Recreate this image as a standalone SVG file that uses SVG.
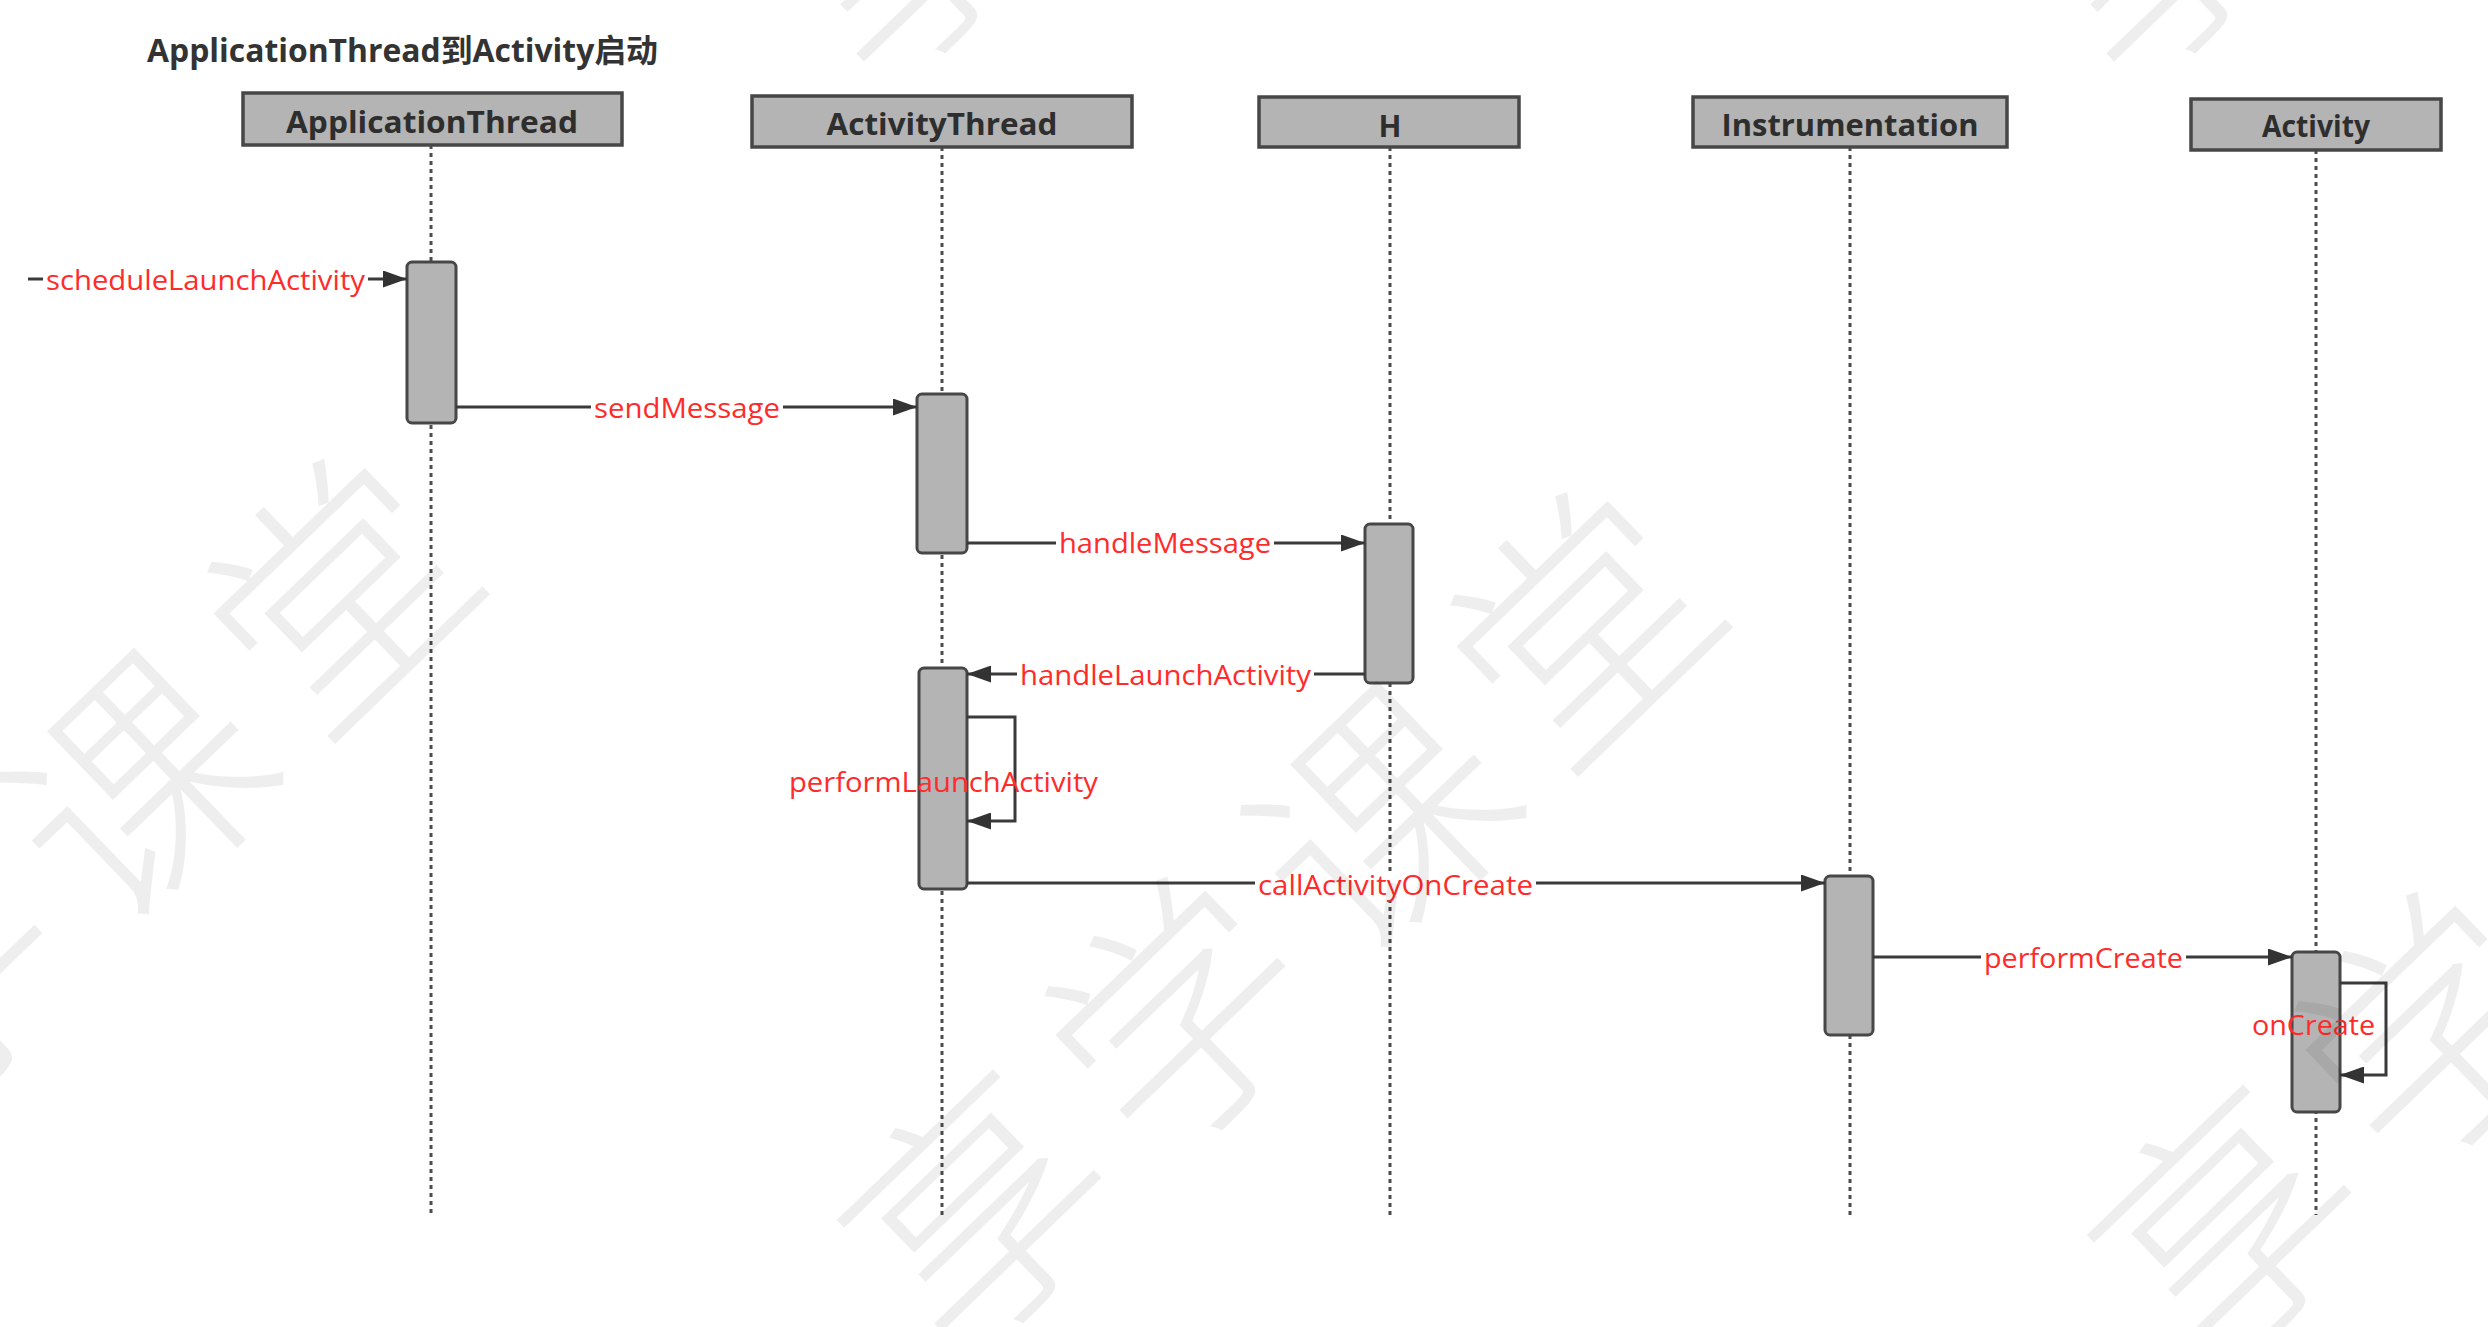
<svg xmlns="http://www.w3.org/2000/svg" width="2488" height="1327" viewBox="0 0 2488 1327">
<style>
.hdr{fill:#b4b4b4;stroke:#474747;stroke-width:3.5}
.hdrt{font-family:"Open Sans","Noto Sans",sans-serif;font-weight:700;font-size:30px;fill:#2e2e2e;text-anchor:middle}
.life{stroke:#4d4d4d;stroke-width:3;stroke-dasharray:4 4;fill:none}
.act{fill:#b4b4b4;stroke:#474747;stroke-width:3}
.msg{stroke:#3a3a3a;stroke-width:3;fill:none;marker-end:url(#arr)}
.lbl{font-family:"Open Sans","Noto Sans",sans-serif;font-size:27px;fill:#ff2b2b}
.lbg{fill:#fff}
.wm{font-family:"Noto Sans CJK SC","Noto Sans CJK JP",sans-serif;font-weight:300;font-size:250px;letter-spacing:30px;fill:#000;fill-opacity:0.065}
</style>
<defs>
<marker id="arr" markerUnits="userSpaceOnUse" markerWidth="24" markerHeight="17" viewBox="0 0 24 17" refX="24" refY="8.5" orient="auto">
<path d="M0,0 L24,8.5 L0,17 Z" fill="#333"/>
</marker>
</defs>
<rect width="2488" height="1327" fill="#fff"/>
<text x="147" y="62" font-family="Open Sans, Noto Sans CJK SC, sans-serif" font-weight="700" font-size="32" fill="#333" textLength="511" lengthAdjust="spacingAndGlyphs">ApplicationThread到Activity启动</text>

<g id="lifelines">
<line class="life" x1="431" y1="145" x2="431" y2="1215"/>
<line class="life" x1="942" y1="147" x2="942" y2="1215"/>
<line class="life" x1="1390" y1="147" x2="1390" y2="1215"/>
<line class="life" x1="1850" y1="147" x2="1850" y2="1215"/>
<line class="life" x1="2316" y1="150" x2="2316" y2="1215"/>
</g>

<g id="node-applicationthread">
<rect class="hdr" x="243" y="93" width="379" height="52"/>
<text class="hdrt" x="432" y="133" textLength="292" lengthAdjust="spacingAndGlyphs">ApplicationThread</text>
<rect class="act" x="407" y="262" width="49" height="161" rx="5"/>
</g>
<g id="node-activitythread">
<rect class="hdr" x="752" y="96" width="380" height="51"/>
<text class="hdrt" x="942" y="135" textLength="231" lengthAdjust="spacingAndGlyphs">ActivityThread</text>
<rect class="act" x="917" y="394" width="50" height="159" rx="5"/>
<rect class="act" x="919" y="668" width="48" height="221" rx="5"/>
</g>
<g id="node-h">
<rect class="hdr" x="1259" y="97" width="260" height="50"/>
<text class="hdrt" x="1390" y="137">H</text>
<rect class="act" x="1365" y="524" width="48" height="159" rx="5"/>
</g>
<g id="node-instrumentation">
<rect class="hdr" x="1693" y="97" width="314" height="50"/>
<text class="hdrt" x="1850" y="136" textLength="257" lengthAdjust="spacingAndGlyphs">Instrumentation</text>
<rect class="act" x="1825" y="876" width="48" height="159" rx="5"/>
</g>
<g id="node-activity">
<rect class="hdr" x="2191" y="99" width="250" height="51"/>
<text class="hdrt" x="2316" y="137" textLength="108" lengthAdjust="spacingAndGlyphs">Activity</text>
<rect class="act" x="2292" y="952" width="48" height="160" rx="5"/>
</g>

<g id="connectors">
<line class="msg" x1="28" y1="279" x2="407" y2="279"/>
<rect class="lbg" x="43" y="267" width="325" height="30"/>
<text class="lbl" x="46" y="290" textLength="319" lengthAdjust="spacingAndGlyphs">scheduleLaunchActivity</text>

<line class="msg" x1="456" y1="407" x2="917" y2="407"/>
<rect class="lbg" x="591" y="395" width="192" height="30"/>
<text class="lbl" x="594" y="418" textLength="186" lengthAdjust="spacingAndGlyphs">sendMessage</text>

<line class="msg" x1="967" y1="543" x2="1365" y2="543"/>
<rect class="lbg" x="1056" y="531" width="218" height="30"/>
<text class="lbl" x="1059" y="553" textLength="212" lengthAdjust="spacingAndGlyphs">handleMessage</text>

<line class="msg" x1="1365" y1="674" x2="967" y2="674"/>
<rect class="lbg" x="1017" y="662" width="297" height="30"/>
<text class="lbl" x="1020" y="685" textLength="291" lengthAdjust="spacingAndGlyphs">handleLaunchActivity</text>

<path class="msg" d="M967,717 H1015 V821 H967"/>
<text class="lbl" x="789" y="792" textLength="309" lengthAdjust="spacingAndGlyphs">performLaunchActivity</text>

<line class="msg" x1="967" y1="883" x2="1825" y2="883"/>
<rect class="lbg" x="1255" y="871" width="281" height="30"/>
<text class="lbl" x="1258" y="895" textLength="275" lengthAdjust="spacingAndGlyphs">callActivityOnCreate</text>

<line class="msg" x1="1873" y1="957" x2="2292" y2="957"/>
<rect class="lbg" x="1981" y="945" width="205" height="30"/>
<text class="lbl" x="1984" y="968" textLength="199" lengthAdjust="spacingAndGlyphs">performCreate</text>

<path class="msg" d="M2340,983 H2386 V1075 H2340"/>
<text class="lbl" x="2252" y="1035" textLength="123" lengthAdjust="spacingAndGlyphs">onCreate</text>
</g>

<g id="watermark">
<text class="wm" transform="translate(137,787) rotate(-44)" x="-685" y="95">享学课堂</text>
<text class="wm" transform="translate(1380,820) rotate(-44)" x="-685" y="95">享学课堂</text>
<text class="wm" transform="translate(2630,835) rotate(-44)" x="-685" y="95">享学课堂</text>
<text class="wm" transform="translate(1302,-450) rotate(-44)" x="-685" y="95">享学课堂</text>
<text class="wm" transform="translate(2552,-450) rotate(-44)" x="-685" y="95">享学课堂</text>
</g>
</svg>
